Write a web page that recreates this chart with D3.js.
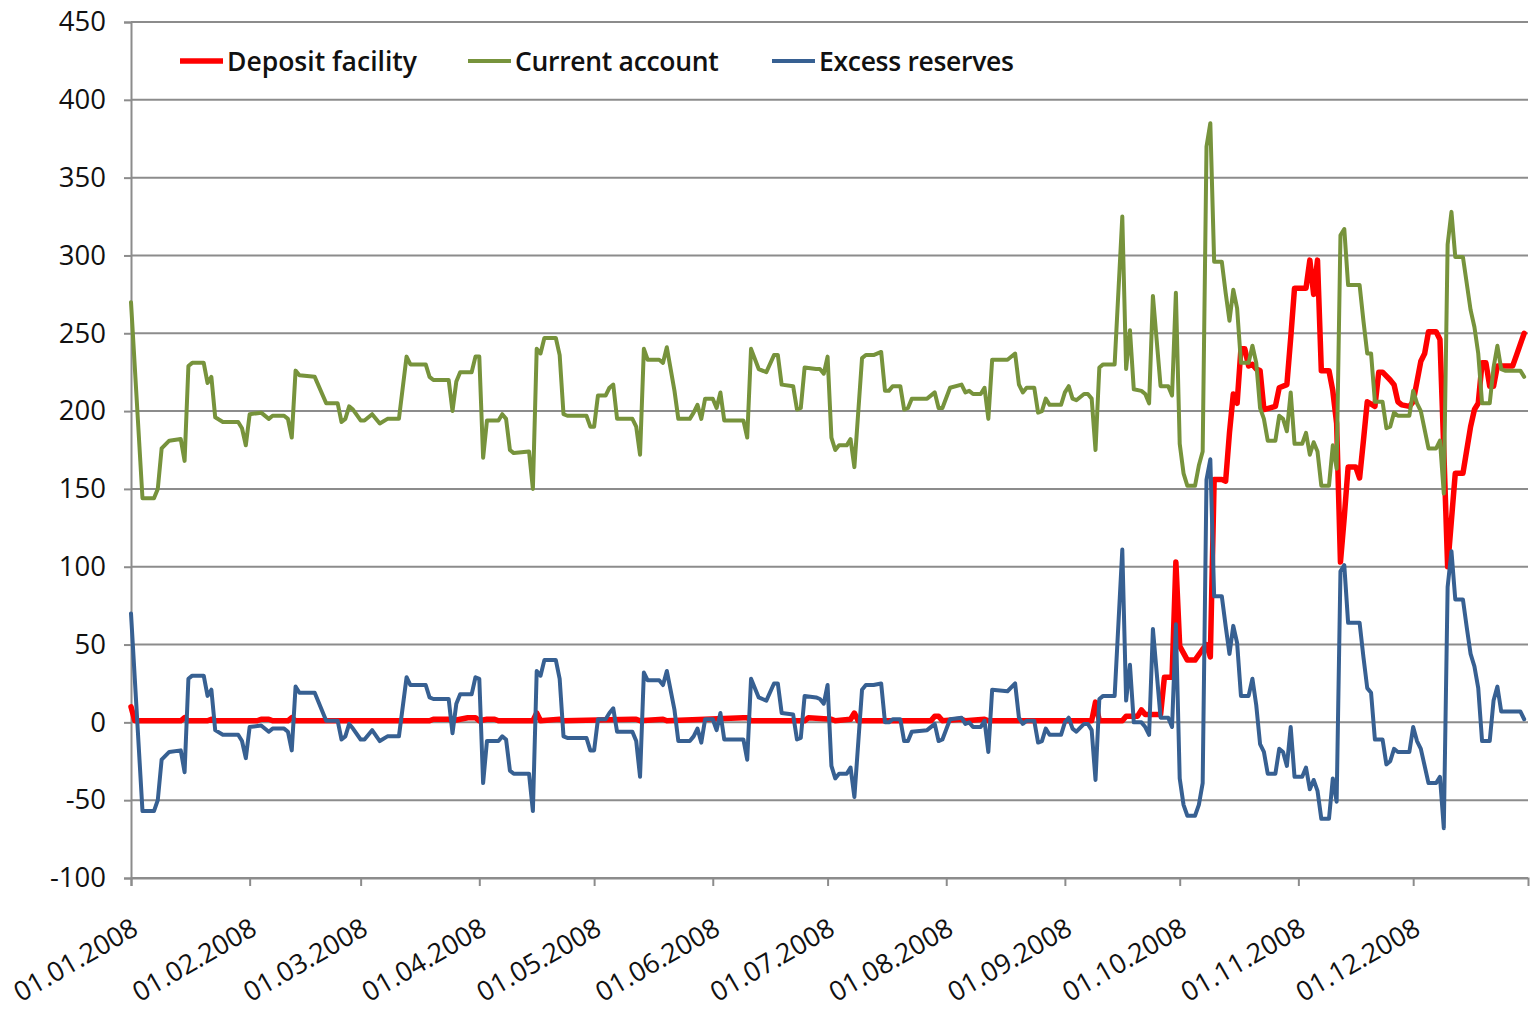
<!DOCTYPE html>
<html>
<head>
<meta charset="utf-8">
<script src="https://cdn.jsdelivr.net/npm/d3@7"></script>
<style>
  body { margin: 0; background: #fff; }
  svg text { font-family: "Open Sans", "Noto Sans", sans-serif; fill: #111; }
</style>
</head>
<body>
<div id="chart"></div>
<script>
// values (EUR bn), dates in 2008 as dd.mm
const accountDates = [
  "01.01","04.01","07.01","08.01","09.01","11.01","14.01","15.01","16.01","17.01",
  "20.01","21.01","22.01","23.01","25.01","29.01","30.01","31.01","01.02","04.02",
  "06.02","07.02","10.02","11.02","12.02","13.02","14.02","18.02","21.02","24.02",
  "25.02","26.02","27.02","28.02","01.03","02.03","04.03","06.03","08.03","11.03",
  "13.03","14.03","18.03","19.03","20.03","24.03","25.03","26.03","27.03","30.03",
  "31.03","01.04","02.04","03.04","06.04","07.04","08.04","09.04","10.04","14.04",
  "15.04","16.04","17.04","18.04","21.04","22.04","23.04","24.04","29.04","30.04",
  "01.05","02.05","04.05","05.05","06.05","07.05","11.05","12.05","13.05","14.05",
  "15.05","18.05","19.05","20.05","22.05","23.05","26.05","27.05","28.05","29.05",
  "30.05","01.06","02.06","03.06","04.06","09.06","10.06","11.06","13.06","15.06",
  "17.06","18.06","19.06","22.06","23.06","24.06","25.06","28.06","29.06","30.06",
  "01.07","02.07","03.07","04.07","06.07","07.07","08.07","10.07","11.07","13.07",
  "15.07","16.07","17.07","18.07","20.07","21.07","22.07","23.07","27.07","29.07",
  "30.07","31.07","02.08","05.08","06.08","07.08","08.08","10.08","11.08","12.08",
  "13.08","17.08","19.08","20.08","21.08","22.08","24.08","25.08","26.08","27.08",
  "28.08","31.08","01.09","02.09","03.09","04.09","06.09","07.09","08.09","09.09",
  "10.09","11.09","14.09","16.09","17.09","18.09","19.09","21.09","22.09","23.09",
  "24.09","26.09","28.09","29.09","30.09","01.10","02.10","03.10","05.10","06.10",
  "07.10","08.10","09.10","10.10","12.10","13.10","14.10","15.10","16.10","17.10",
  "19.10","20.10","21.10","22.10","23.10","24.10","26.10","27.10","28.10","29.10",
  "30.10","31.10","02.11","03.11","04.11","05.11","06.11","07.11","09.11","10.11",
  "11.11","12.11","13.11","14.11","17.11","18.11","19.11","20.11","21.11","23.11",
  "24.11","25.11","26.11","27.11","30.11","01.12","02.12","03.12","05.12","07.12",
  "08.12","09.12","10.12","11.12","12.12","14.12","15.12","16.12","17.12","18.12",
  "19.12","21.12","22.12","23.12","24.12","25.12","29.12","30.12"
]

const currentAccount = [
  270,144,144,150,176,181,182,168,229,231,
  231,218,222,196,193,193,189,178,198,199,
  195,197,197,195,183,226,223,222,205,205,
  193,195,203,201,194,194,198,192,195,195,
  235,230,230,222,220,220,200,219,225,225,
  235,235,170,194,194,198,195,175,173,174,
  150,240,237,247,247,236,198,197,197,190,
  190,210,210,215,217,195,195,190,172,240,
  233,233,231,241,213,195,195,199,204,195,
  208,208,202,212,194,194,183,240,227,225,
  236,236,217,216,201,202,228,227,227,224,
  235,183,175,178,178,182,164,234,236,236,
  238,213,213,216,216,201,202,208,208,212,
  202,202,215,217,212,213,211,211,215,195,
  233,233,237,217,212,215,215,199,200,208,
  204,204,212,216,208,207,211,211,208,175,
  228,230,230,325,227,252,214,213,211,205,
  274,216,216,210,276,179,160,152,152,165,
  174,370,385,296,296,276,258,278,266,231,
  231,242,231,202,195,181,181,197,195,187,
  212,179,179,186,172,180,174,152,152,178,
  163,313,317,281,281,258,237,237,206,206,
  189,190,199,197,197,213,205,200,176,176,
  181,147,307,328,299,299,282,265,254,237,
  205,205,228,242,227,226,226,222
]

const excessReserves = [
  70,-57,-57,-50,-24,-19,-18,-32,28,30,
  30,17,21,-5,-8,-8,-12,-23,-3,-2,
  -6,-4,-4,-6,-18,23,19,19,1,1,
  -11,-9,-1,-4,-11,-11,-5,-12,-9,-9,
  29,24,24,16,15,15,-7,12,18,18,
  29,28,-39,-12,-12,-9,-11,-31,-33,-33,
  -57,33,30,40,40,28,-9,-10,-10,-18,
  -18,2,2,6,9,-6,-6,-12,-35,32,
  27,27,24,33,8,-12,-12,-9,-4,-13,
  2,2,-5,6,-11,-11,-24,28,16,14,
  25,25,6,5,-11,-10,17,16,15,12,
  24,-28,-36,-33,-33,-29,-48,21,24,24,
  25,0,0,2,2,-12,-12,-6,-5,-1,
  -12,-11,2,3,-1,0,-3,-3,1,-19,
  21,20,25,3,-1,1,1,-13,-12,-4,
  -8,-8,0,3,-4,-6,-1,-1,-5,-37,
  15,17,17,111,14,37,0,0,-3,-8,
  60,3,3,-3,63,-36,-53,-60,-60,-53,
  -39,156,169,81,81,62,44,62,51,17,
  17,28,11,-14,-19,-33,-33,-17,-19,-28,
  -3,-35,-35,-29,-43,-37,-44,-62,-62,-36,
  -51,97,101,64,64,42,22,19,-11,-11,
  -27,-25,-17,-19,-19,-3,-12,-17,-39,-39,
  -35,-68,87,110,79,79,61,44,36,22,
  -12,-12,14,23,7,7,7,2
]

const depositDates = [
  "01.01","02.01","14.01","15.01","16.01","21.01","22.01","23.01","03.02","04.02",
  "06.02","07.02","11.02","12.02","13.02","19.03","20.03","24.03","25.03","27.03",
  "29.03","31.03","01.04","03.04","05.04","06.04","15.04","16.04","17.04","22.04",
  "23.04","11.05","12.05","13.05","19.05","20.05","09.06","10.06","11.06","25.06",
  "26.06","02.07","03.07","07.07","08.07","09.07","28.07","29.07","30.07","31.07",
  "05.08","06.08","11.08","12.08","08.09","09.09","10.09","16.09","17.09","20.09",
  "21.09","22.09","26.09","27.09","29.09","30.09","01.10","03.10","05.10","07.10",
  "08.10","09.10","10.10","12.10","13.10","14.10","15.10","16.10","17.10","18.10",
  "19.10","20.10","21.10","22.10","23.10","26.10","27.10","29.10","30.10","31.10",
  "03.11","04.11","05.11","06.11","07.11","09.11","10.11","11.11","12.11","13.11",
  "14.11","16.11","17.11","18.11","19.11","21.11","22.11","23.11","25.11","26.11",
  "27.11","28.11","30.11","01.12","03.12","04.12","05.12","07.12","08.12","09.12",
  "10.12","11.12","12.12","14.12","15.12","16.12","17.12","18.12","19.12","20.12",
  "21.12","22.12","23.12","27.12","28.12","30.12"
]

const depositFacility = [
  10,1,1,3,1,1,2,1,1,2,
  2,1,1,3,1,1,2,2,1,2,
  3,3,1,2,2,1,1,6,1,2,
  1,2,2,1,2,1,3,3,1,1,
  3,2,1,2,6,1,1,4,4,1,
  2,1,2,1,1,13,1,1,4,4,
  8,5,5,29,29,103,49,40,40,47,
  50,42,156,156,155,186,211,205,240,240,
  229,230,227,226,201,203,215,217,247,279,
  279,297,275,297,226,226,213,192,103,132,
  164,164,157,181,206,203,225,225,220,217,
  206,204,203,206,232,237,251,251,246,175,
  100,130,160,160,175,190,201,205,231,231,
  216,216,229,229,236,250
]

const yTicks = [-100, -50, 0, 50, 100, 150, 200, 250, 300, 350, 400, 450]
const monthTicks = ["01.01","01.02","01.03","01.04","01.05","01.06","01.07","01.08","01.09","01.10","01.11","01.12"]

const seriesNames = ["Deposit facility", "Current account", "Excess reserves"]
const seriesColors = ["#ff0000", "#77933c", "#376092"]

const parseDay = s => d3.timeParse("%d.%m.%Y")(s + ".2008")

draw()

function draw() {
  const W = 1537, H = 1011
  const margin = { top: 22, right: 9, bottom: 133, left: 131 }

  const svg = d3.select("#chart").append("svg")
    .attr("width", W)
    .attr("height", H)

  const x = d3.scaleTime()
    .domain([parseDay("01.01"), parseDay("31.12")])
    .range([margin.left, W - margin.right])

  const y = d3.scaleLinear()
    .domain([-100, 450])
    .range([H - margin.bottom, margin.top])

  // horizontal gridlines
  svg.append("g")
    .selectAll("line")
    .data(yTicks)
    .enter()
    .append("line")
    .attr("x1", margin.left)
    .attr("x2", W - margin.right)
    .attr("y1", d => y(d))
    .attr("y2", d => y(d))
    .attr("stroke", "#8c8c8c")
    .attr("stroke-width", 2)

  // y axis (plain hyphen for negatives, like the original)
  const yAxis = svg.append("g")
    .attr("transform", `translate(${margin.left},0)`)
    .call(d3.axisLeft(y).tickValues(yTicks).tickSize(7).tickPadding(18).tickFormat(d => String(d)))
  yAxis.select(".domain").attr("stroke", "#8c8c8c").attr("stroke-width", 2)
  yAxis.selectAll(".tick line").attr("stroke", "#8c8c8c").attr("stroke-width", 2)
  yAxis.selectAll("text")
    .attr("font-size", 27.5)
    .style("font-family", '"Open Sans", sans-serif')
    .attr("fill", "#111")

  // x axis
  const xAxis = svg.append("g")
    .attr("transform", `translate(0,${y(-100)})`)
    .call(d3.axisBottom(x)
      .tickValues(monthTicks.map(parseDay))
      .tickSize(8)
      .tickFormat(d3.timeFormat("%d.%m.%Y")))
  xAxis.select(".domain").attr("stroke", "#8c8c8c").attr("stroke-width", 2)
  xAxis.selectAll(".tick line").attr("stroke", "#8c8c8c").attr("stroke-width", 2)
  xAxis.selectAll("text")
    .attr("font-size", 27)
    .style("font-family", '"Open Sans", sans-serif')
    .attr("fill", "#111")
    .attr("text-anchor", "end")
    .attr("dy", 0)
    .attr("transform", "translate(3,46)rotate(-30)")

  // lines, drawn in legend order so red sits underneath
  const line = d3.line()
    .x(d => x(d.date))
    .y(d => y(d.value))

  const series = [
    { dates: depositDates, values: depositFacility, width: 5.5 },
    { dates: accountDates, values: currentAccount, width: 4 },
    { dates: accountDates, values: excessReserves, width: 4 }
  ]

  series.forEach((s, i) => {
    const pts = s.dates.map((d, j) => ({ date: parseDay(d), value: s.values[j] }))
    svg.append("path")
      .datum(pts)
      .attr("fill", "none")
      .attr("stroke", seriesColors[i])
      .attr("stroke-width", s.width)
      .attr("stroke-linejoin", "round")
      .attr("stroke-linecap", "round")
      .attr("d", line)
  })

  // legend
  const legendX = [180, 468, 772]
  const legend = svg.append("g")
  seriesNames.forEach((name, i) => {
    legend.append("line")
      .attr("x1", legendX[i])
      .attr("x2", legendX[i] + 43)
      .attr("y1", 61)
      .attr("y2", 61)
      .attr("stroke", seriesColors[i])
      .attr("stroke-width", i === 0 ? 5.5 : 4)
    legend.append("text")
      .attr("x", legendX[i] + 47)
      .attr("y", 71)
      .attr("font-size", 26.5)
      .attr("font-weight", 600)
      .attr("letter-spacing", i === 0 ? 0 : -0.3)
      .text(name)
  })
}
</script>
</body>
</html>
